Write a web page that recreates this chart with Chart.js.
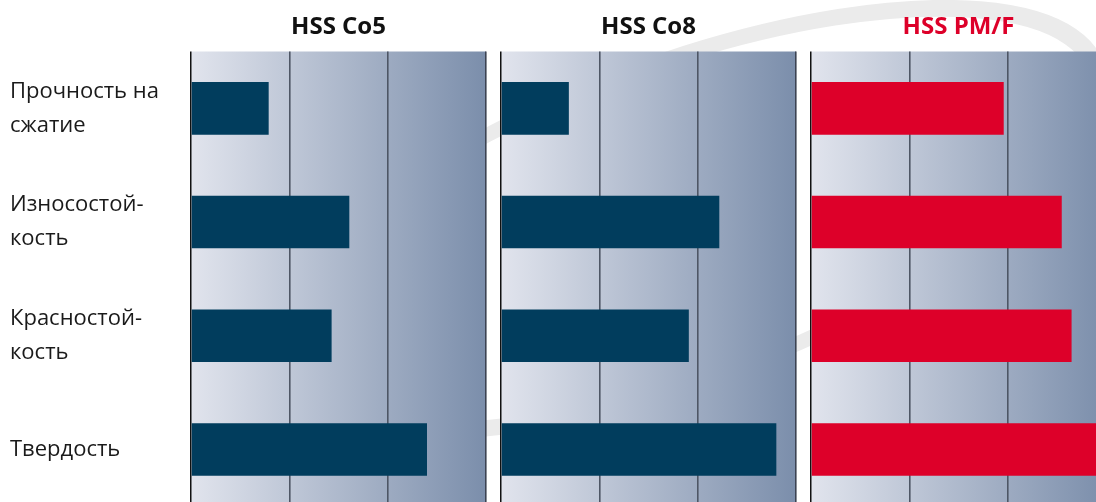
<!DOCTYPE html>
<html>
<head>
<meta charset="utf-8">
<script src="https://cdn.jsdelivr.net/npm/chart.js@4/dist/chart.umd.min.js"></script>
<style>
  html, body { margin: 0; padding: 0; background: #ffffff; overflow: hidden; }
  #wrap { position: relative; width: 1096px; height: 502px; overflow: hidden; }
  #wrap canvas { position: absolute; left: 0; top: 0; }
</style>
</head>
<body>
<div id="wrap">
  <canvas id="c1" width="1110" height="510"></canvas>
  <canvas id="c2" width="1110" height="510"></canvas>
  <canvas id="c3" width="1110" height="510"></canvas>
</div>
<script>
// ---- data ----
const categories = [['Прочность на', 'сжатие'], ['Износостой-', 'кость'], ['Красностой-', 'кость'], 'Твердость'];
const seriesNames = ['HSS Co5', 'HSS Co8', 'HSS PM/F'];
const valuesCo5 = [0.79, 1.61, 1.43, 2.40];
const valuesCo8 = [0.69, 2.22, 1.91, 2.80];
const valuesPMF = [1.96, 2.55, 2.65, 3.00];
const tickValues = [0, 1, 2, 3];

const FONT = '"Open Sans", "Noto Sans", sans-serif';
const DARK = '#013d5d';
const RED = '#dd0029';

const swooshPlugin = {
  id: 'swoosh',
  beforeDraw(chart) {
    const ctx = chart.ctx;
    ctx.save();
    ctx.translate(683, 220);
    ctx.transform(1, -0.315, 0, 1, 0, 0);
    ctx.beginPath();
    ctx.ellipse(0, 0, 417, 166, 0, 0, Math.PI * 2);
    ctx.strokeStyle = '#ebebeb';
    ctx.lineWidth = 16;
    ctx.stroke();
    ctx.restore();
  }
};

const panelBg = {
  id: 'panelBg',
  beforeDraw(chart) {
    const { ctx, chartArea: a } = chart;
    const xs = chart.scales.x;
    const x0 = xs.getPixelForValue(tickValues[0]);
    const x1 = xs.getPixelForValue(tickValues[tickValues.length - 1]);
    const g = ctx.createLinearGradient(x0, 0, x1, 0);
    g.addColorStop(0, '#e1e4ed');
    g.addColorStop(1, '#7b8eab');
    ctx.save();
    ctx.fillStyle = g;
    ctx.fillRect(a.left, a.top, a.right - a.left, a.bottom - a.top);
    ctx.restore();
  }
};

function makeChart(id, values, color, title, titleColor, padLeft, padRight, showY, extraPlugins) {
  return new Chart(document.getElementById(id), {
    type: 'bar',
    data: {
      labels: categories,
      datasets: [{
        label: title,
        data: values,
        backgroundColor: color,
        borderWidth: 0,
        barPercentage: 0.463,
        categoryPercentage: 1
      }]
    },
    options: {
      indexAxis: 'y',
      responsive: false,
      animation: false,
      devicePixelRatio: 1,
      layout: { padding: { left: padLeft, right: padRight, top: 0, bottom: 3.7 } },
      plugins: {
        legend: { display: false },
        tooltip: { enabled: false },
        title: {
          display: true,
          text: title,
          color: titleColor,
          fullSize: false,
          font: { family: FONT, size: 24, weight: 'bold', lineHeight: 1.2 },
          padding: { top: 13, bottom: 9.7 }
        }
      },
      scales: {
        x: {
          min: tickValues[0],
          max: tickValues[tickValues.length - 1],
          afterBuildTicks(scale) { scale.ticks = tickValues.map(v => ({ value: v })); },
          ticks: { display: false, padding: 0 },
          border: { display: false },
          grid: {
            drawTicks: false,
            color: c => c.index === 0 ? '#111111' : (c.index === 3 ? '#3c4352' : '#4e5665'),
            lineWidth: c => c.index === 0 ? 1.5 : 1.6
          },
          afterFit(scale) { scale.paddingLeft = 0; scale.paddingRight = 0; }
        },
        y: {
          display: showY,
          afterFit(scale) {
            scale.width = showY ? 181 : 0;
            scale.paddingTop = 0;
            scale.paddingBottom = 0;
          },
          border: { display: false },
          grid: { display: false },
          ticks: {
            crossAlign: 'far',
            color: '#1a1a1a',
            font: { family: FONT, size: 22, lineHeight: 1.545 }
          }
        }
      }
    },
    plugins: extraPlugins.concat([panelBg])
  });
}

makeChart('c1', valuesCo5, DARK, seriesNames[0], '#111111', 10, 1110 - 486, true, [swooshPlugin]);
makeChart('c2', valuesCo8, DARK, seriesNames[1], '#111111', 501, 1110 - 796, false, []);
makeChart('c3', valuesPMF, RED, seriesNames[2], '#dd0029', 811, 1110 - 1106, false, []);
</script>
</body>
</html>
